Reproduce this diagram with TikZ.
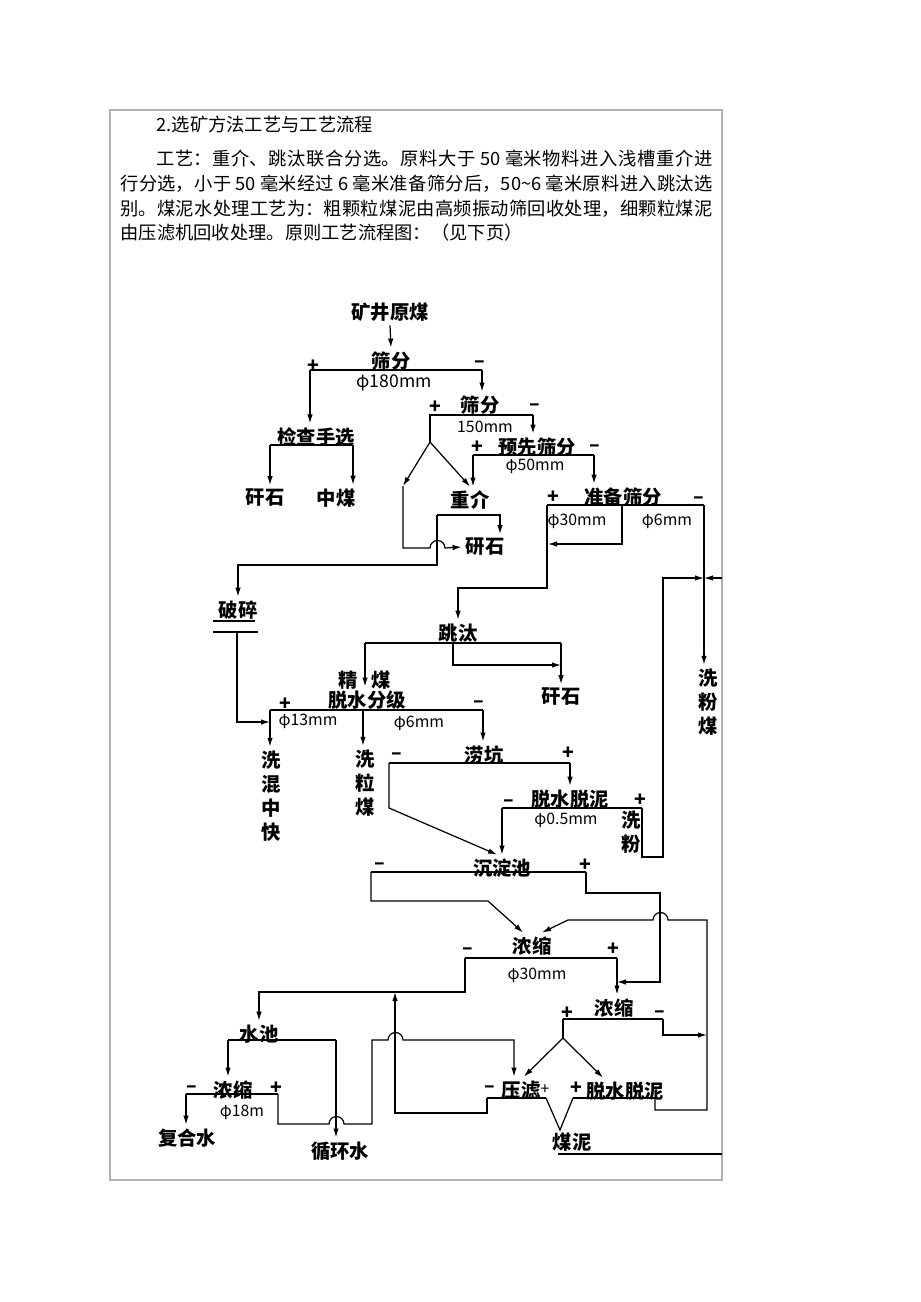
\documentclass[tikz,border=0pt]{standalone}
\usepackage{fontspec}
\setmainfont{Noto Sans CJK SC}
\usetikzlibrary{arrows.meta,calc}
\XeTeXlinebreaklocale "zh"
\XeTeXlinebreakskip=0pt plus 1.5pt

\begin{document}
\begin{tikzpicture}[
  x=0.02cm, y=-0.02cm,
  every path/.style={line width=0.7pt,black},
  txt/.style={font=\fontsize{10.4}{14.2}\selectfont,inner sep=0pt},
  lbl/.style={font=\fontsize{11}{13.6}\selectfont\bfseries,inner sep=2pt,align=center},
  dia/.style={font=\fontsize{9}{9}\selectfont,inner sep=0pt},
  pm/.style={font=\fontsize{11}{11}\selectfont\bfseries,inner sep=0pt},
  arr/.style={-{Latex[length=1.8mm,width=1.1mm]}}
]
\useasboundingbox (0,0) rectangle (920,1302);
\draw[gray!60,line width=1pt] (110,110) rectangle (722,1180);

% text above the chart
\node[txt,anchor=west] (hd) at (156,125) {2.选矿方法工艺与工艺流程};
\node[txt,anchor=north west,text width=11.84cm,align=justify] (para) at (120,149)
  {\hspace*{0.72cm}工艺：重介、跳汰联合分选。原料大于 50 毫米物料进入浅槽重介进\linebreak
   行分选，小于 50 毫米经过 6 毫米准备筛分后，50\textasciitilde 6 毫米原料进入跳汰选\linebreak
   别。煤泥水处理工艺为：粗颗粒煤泥由高频振动筛回收处理，细颗粒煤泥\linebreak
   由压滤机回收处理。原则工艺流程图：（见下页）};

% stations
\node[lbl] (kj) at (390,312) {矿井原煤};
\node[lbl] (sf1) at (391,361) {筛分};
\node[lbl] (jc) at (316,437) {检查手选};
\node[lbl] (gs1) at (265,498) {矸石};
\node[lbl] (zm) at (336,498) {中煤};
\node[lbl] (sf2) at (480,405) {筛分};
\node[lbl] (yx) at (537,447) {预先筛分};
\node[lbl] (zj) at (470,500) {重介};
\node[lbl] (gs2) at (485,547) {研石};
\node[lbl] (zb) at (623,497) {准备筛分};
\node[lbl] (ps) at (238,610) {破碎};
\node[lbl] (tt) at (458,633) {跳汰};
\node[lbl] (gs3) at (561,697) {矸石};
\node[lbl] (jm) at (365,680) {精\hspace{0.28cm}煤};
\node[lbl] (ts) at (367,700) {脱水分级};
\node[lbl] (xh) at (271,796) {洗\\混\\中\\快};
\node[lbl] (xl) at (365,783) {洗\\粒\\煤};
\node[lbl] (xf) at (708,702) {洗\\粉\\煤};
\node[lbl] (lk) at (484,755) {涝坑};
\node[lbl] (tn) at (570,799) {脱水脱泥};
\node[lbl] (xfen) at (631,832) {洗\\粉};
\node[lbl] (cd) at (502,868) {沉淀池};
\node[lbl] (ns1) at (532,946) {浓缩};
\node[lbl] (ns2) at (614,1008) {浓缩};
\node[lbl] (sc) at (259,1034) {水池};
\node[lbl] (ns3) at (233,1090) {浓缩};
\node[lbl] (fh) at (187,1138) {复合水};
\node[lbl] (xhs) at (340,1151) {循环水};
\node[lbl] (yl) at (521,1090) {压滤};
\node[lbl] (tn2) at (625,1091) {脱水脱泥};
\node[lbl] (mn) at (572,1142) {煤泥};

% screen sizes
\node[dia,font=\fontsize{10}{10}\selectfont] (d180) at (394,383) {φ180mm};
\node[dia] (d150) at (485,427) {150mm};
\node[dia] (d50) at (535,466) {φ50mm};
\node[dia] (d30a) at (577,521) {φ30mm};
\node[dia] (d6a) at (667,521) {φ6mm};
\node[dia] (d13) at (308,721) {φ13mm};
\node[dia] (d6b) at (419,723) {φ6mm};
\node[dia] (d05) at (566,820) {φ0.5mm};
\node[dia] (d30b) at (537,975) {φ30mm};
\node[dia] (d18) at (242,1112) {φ18m};

% oversize / undersize marks
\node[pm] (pa) at (313,366) {+}; \node[pm] (ma) at (480,364) {–};
\node[pm] (pb) at (435,407) {+}; \node[pm] (mb) at (535,407) {–};
\node[pm] (pc) at (477,447) {+}; \node[pm] (mc) at (595,448) {–};
\node[pm] (pd) at (553,497) {+}; \node[pm] (md) at (699,500) {–};
\node[pm] (pe) at (285,704) {+}; \node[pm] (me) at (479,704) {–};
\node[pm] (mf) at (397,756) {–}; \node[pm] (pf) at (568,753) {+};
\node[pm] (mg) at (509,803) {–}; \node[pm] (pg) at (640,800) {+};
\node[pm] (mh) at (380,866) {–}; \node[pm] (ph) at (585,865) {+};
\node[pm] (mi) at (468,951) {–}; \node[pm] (pi) at (613,949) {+};
\node[pm] (pj) at (567,1013) {+}; \node[pm] (mj) at (660,1014) {–};
\node[pm] (mk) at (192,1089) {–}; \node[pm] (pk) at (276,1088) {+};
\node[pm] (ml) at (490,1089) {–}; \node[dia] (pl) at (545,1090) {+};
\node[pm] (pm2) at (576,1088) {+};

% raw coal and 180 mm screen
\draw[arr] (kj.south) -- (sf1.north);
\coordinate (s1l) at (310,370);
\coordinate (s1r) at (482,370);
\draw (s1l) -- (s1r);
\draw[arr] (s1l) -- (s1l |- jc.north);
\draw[arr] (s1r) -- (s1r |- sf2.north);

% hand picking
\coordinate (jl) at (270,445);
\coordinate (jr) at (353,445);
\draw (jl) -- (jr);
\draw[arr] (jl) -- (jl |- gs1.north);
\draw[arr] (jr) -- (jr |- zm.north);

% 150 mm screen
\coordinate (s2l) at (430,415);
\coordinate (s2r) at (533,415);
\coordinate (spl) at (430,442);
\coordinate (lp) at (403,486);
\draw (s2r) -- (s2l) -- (spl);
\draw[arr] (s2r) -- (s2r |- yx.north);
\draw[arr] (spl) -- (lp);
\draw[arr] (spl) -- (zj.north);
\draw[arr] (lp) -- (403,548) -- (430,548)
  arc[start angle=180,end angle=0,radius=1.5mm] -- (gs2.west);

% dense medium
\coordinate (zl) at (437,515);
\coordinate (zr) at (500,515);
\draw[arr] (zl) -- (zr) -- (zr |- gs2.north);
\draw[arr] (zl) -- (437,565) -- (238,565) -- (ps.north);

% 50 mm pre-screen
\coordinate (ql) at (473,455);
\coordinate (qr) at (594,455);
\draw (ql) -- (qr);
\draw[arr] (ql) -- (ql |- zj.north);
\draw[arr] (qr) -- (qr |- zb.north);

% preparatory screen
\coordinate (bl) at (547,505);
\coordinate (bm) at (622,505);
\coordinate (br) at (704,505);
\draw (bl) -- (br);
\draw[arr] (bm) -- (622,544) -- (548,544);
\draw[arr] (bl) -- (547,588) -- (458,588) -- (tt.north);
\draw[arr] (br) -- (br |- xf.north);

% jig
\coordinate (tl) at (365,643);
\coordinate (tr) at (561,643);
\draw (tl) -- (tr);
\draw[arr] (tr) -- (tr |- gs3.north);
\draw[arr] (tl) -- (tl |- ts.north);
\draw[arr] (453,643) -- (453,665) -- (561,665);

% crusher
\draw (213,621) -- (255,621);
\draw (213,632) -- (258,632);
\draw[arr] (237,632) -- (237,722) -- (270,722);

% dewatering and classifying
\coordinate (cl) at (270,710);
\coordinate (cm) at (363,710);
\coordinate (cr) at (483,710);
\draw (cl) -- (cr);
\draw[arr] (cl) -- (cl |- xh.north);
\draw[arr] (cm) -- (cm |- xl.north);
\draw[arr] (cr) -- (cr |- lk.north);

% pit
\coordinate (kl) at (389,763);
\coordinate (kr) at (570,763);
\draw (kl) -- (kr);
\draw[arr] (kr) -- (kr |- tn.north);
\draw[arr] (kl) -- (389,808) -- ($(cd.north)+(-5,0)$);

% desliming
\coordinate (dl) at (502,808);
\coordinate (dr) at (642,808);
\draw (dl) -- (dr);
\draw[arr] (dl) -- (dl |- cd.north);
\draw[arr] (dr) -- (642,857) -- (663,857) -- (663,578) -- (704,578);
\draw[arr] (722,578) -- (704,578);

% settling pond
\coordinate (ol) at (371,872);
\coordinate (or) at (586,872);
\draw (ol) -- (or);
\draw[arr] (ol) -- (371,901) -- (488,901) -- ($(ns1.north)+(-9,0)$);
\draw[arr] (or) -- (586,893) -- (660,893) -- (660,982) -- (617,982);

% thickener 1
\coordinate (n1l) at (465,958);
\coordinate (n1r) at (617,958);
\draw (n1l) -- (n1r);
\draw[arr] (n1r) -- (n1r |- ns2.north);
\draw[arr] (n1l) -- (465,992) -- (259,992) -- (sc.north);

% thickener 2
\coordinate (n2l) at (563,1019);
\coordinate (n2r) at (663,1019);
\coordinate (n2s) at (563,1038);
\draw (n2l) -- (n2r);
\draw[arr] (n2r) -- (663,1035) -- (707,1035);
\draw (n2l) -- (n2s);
\draw[arr] (n2s) -- ($(yl.north)+(3,0)$);
\draw[arr] (n2s) -- ($(tn2.north)+(-22,0)$);

% water pool
\coordinate (wl) at (228,1040);
\coordinate (wr) at (336,1040);
\draw (wl) -- (wr);
\draw[arr] (wl) -- (wl |- ns3.north);
\draw[arr] (wr) -- (wr |- xhs.north);

% thickener 3
\coordinate (n3l) at (186,1094);
\coordinate (n3r) at (278,1094);
\coordinate (yf) at (514,1040);
\draw (n3l) -- (n3r);
\draw[arr] (n3l) -- (n3l |- fh.north);
\draw[arr] (n3r) -- (278,1124) -- (329,1124)
  arc[start angle=180,end angle=0,radius=1.5mm] -- (372,1124) -- (372,1040) -- (388,1040)
  arc[start angle=180,end angle=0,radius=1.5mm] -- (yf) -- (yf |- yl.north);

% filter press and desliming screen
\coordinate (fl) at (487,1098);
\coordinate (fr) at (546,1098);
\coordinate (ul) at (573,1098);
\coordinate (ur) at (655,1098);
\coordinate (mv) at (560,1130);
\draw (fl) -- (fr);
\draw (ul) -- (ur);
\draw[arr] (fl) -- (487,1113) -- (395,1113) -- (395,992);
\draw (fr) -- (mv) -- (ul);
\draw[arr] (ur) -- (655,1110) -- (707,1110) -- (707,920) -- (668,920)
  arc[start angle=0,end angle=180,radius=1.5mm] -- (568,920) -- ($(ns1.north)+(10,0)$);
\draw (558,1154) -- (722,1154);
\end{tikzpicture}
\end{document}
